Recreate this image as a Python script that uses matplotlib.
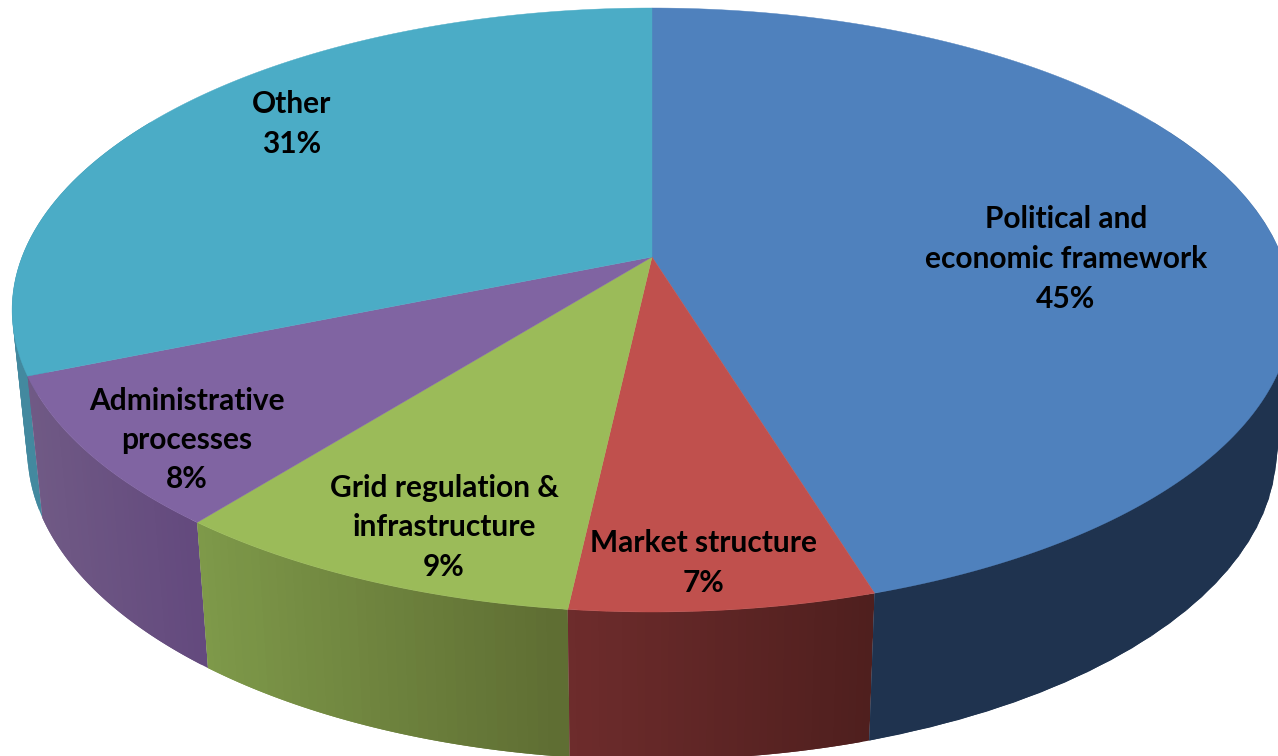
import numpy as np
import matplotlib
matplotlib.use("Agg")
import matplotlib.pyplot as plt
from matplotlib.collections import PolyCollection
from matplotlib.colors import to_rgb

######### data, clockwise from 12 o'clock
names = ["Political and\neconomic framework", "Market structure",
         "Grid regulation &\ninfrastructure", "Administrative\nprocesses", "Other"]
shares = [45.25, 6.51, 8.94, 8.1, 31.2]

######### styles
top_colors = ["#4f81bd", "#c0504d", "#9bbb59", "#8064a2", "#4bacc6"]
wall_left = ["#1f334f", "#6e2c2c", "#7f9b4a", "#705a85", "#43899f"]   # shade at left end of the slice wall
wall_right = ["#1f334f", "#4f1f1e", "#5f6e33", "#644a7e", "#3f8ba3"]
label_xy = [(1066, 259), (704, 563), (444, 527), (187, 440), (292, 124)]

######### perspective of the disc, pixel units
k = -0.1755
top = dict(cx=652, cy=257, dx=630, dy=292.7)
bottom = dict(cx=652, cy=396, dx=615, dy=300)


def rim(theta, p):
    # theta in degrees, clockwise from the top of the disc
    u = np.sin(np.radians(theta))
    v = -np.cos(np.radians(theta))
    den = 1 + k * v
    return p["cx"] + p["dx"] * u / den, p["cy"] + p["dy"] * v / den


fig = plt.figure(figsize=(12.78, 7.56), dpi=100)
ax = fig.add_axes([0, 0, 1, 1])
ax.set_xlim(0, 1278)
ax.set_ylim(756, 0)
ax.axis("off")

edges = np.concatenate([[0], np.cumsum(shares)]) * 3.6

### side wall first, strips fading across each slice
### back slices go first so the front ones sit on top of them
for i in reversed(range(len(shares))):
    a0, a1 = edges[i], edges[i + 1]
    a0v, a1v = max(a0, 60), min(a1, 300)
    if a1v <= a0v:
        continue
    th = np.linspace(a0v, a1v, 41)
    xt, yt = rim(th, top)
    xb, yb = rim(th, bottom)
    quads = []
    cols = []
    c_l = np.array(to_rgb(wall_left[i]))
    c_r = np.array(to_rgb(wall_right[i]))
    span = xt.max() - xt.min()
    for j in range(len(th) - 1):
        e = min(j + 2, len(th) - 1)  # overlap the next strip so no seams show
        quads.append([(xt[j], yt[j]), (xt[e], yt[e]), (xb[e], yb[e]), (xb[j], yb[j])])
        f = (xt[j] - xt.min()) / span
        cols.append(c_l + (c_r - c_l) * f)
    if a0 >= 180:
        quads = quads[::-1]
        cols = cols[::-1]
    ax.add_collection(PolyCollection(quads, facecolors=cols, edgecolors="none", zorder=1))

### top face
for i in range(len(shares)):
    th = np.linspace(edges[i], edges[i + 1], 200)
    x, y = rim(th, top)
    x = np.concatenate([[top["cx"]], x])
    y = np.concatenate([[top["cy"]], y])
    ax.fill(x, y, color=top_colors[i], lw=0.3, zorder=2)

for name, val, (lx, ly) in zip(names, shares, label_xy):
    ax.text(lx, ly, f"{name}\n{val:.0f}%", ha="center", va="center", fontsize=21.5,
            family="Lato", weight="bold", color="black", linespacing=1.5, zorder=3)

fig.savefig("out.png", dpi=100)
